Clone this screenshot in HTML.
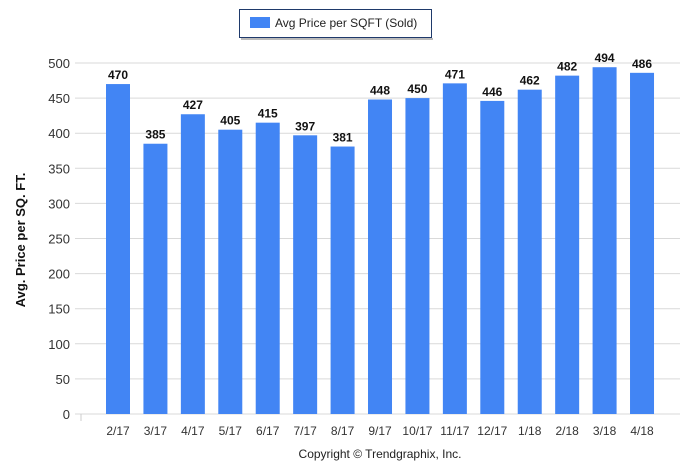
<!DOCTYPE html>
<html><head><meta charset="utf-8"><style>
body{margin:0;background:#fff;}
svg{display:block;font-family:"Liberation Sans",sans-serif;}
</style></head><body>
<svg id="chart" width="699" height="472">
<g>
<rect x="239.5" y="9.5" width="93" height="28" fill="#fff" stroke="#1f3a6b" stroke-width="1" transform="scale(1)"/>
</g>
</svg>
<script>
const categories=["2/17","3/17","4/17","5/17","6/17","7/17","8/17","9/17","10/17","11/17","12/17","1/18","2/18","3/18","4/18"];
const values=[470,385,427,405,415,397,381,448,450,471,446,462,482,494,486];
const yTicks=[0,50,100,150,200,250,300,350,400,450,500];
const svg=document.getElementById('chart');
const NS='http://www.w3.org/2000/svg';
function mk(t,a,p){const e=document.createElementNS(NS,t);for(const k in a)e.setAttribute(k,a[k]);(p||svg).appendChild(e);return e;}
const y0=414,y1=63,yMax=500;
const yS=v=>y0-(v/yMax)*(y0-y1);
const xFirst=118,step=37.43;
const xS=i=>xFirst+i*step;
// legend
const lb=svg.querySelector('rect');lb.setAttribute('x','239.5');lb.setAttribute('width','192');lb.setAttribute('y','9.5');lb.setAttribute('height','28');
mk('rect',{x:241,y:38,width:192,height:2,fill:'#bbb'});
const ls=mk('rect',{x:250,y:17,width:20,height:11,fill:'#4285f4'});

const lt=mk('text',{x:275,y:27,'font-size':12,fill:'#222'});lt.textContent='Avg Price per SQFT (Sold)';

// grid & y labels
yTicks.forEach(v=>{
 const g=mk('line',{x1:75,x2:680,y1:yS(v),y2:yS(v),stroke:'#d9d9d9','stroke-width':1});
 
 const t=mk('text',{x:70,y:yS(v)+5,'text-anchor':'end','font-size':13,fill:'#333'});t.textContent=v;
 
});
mk('line',{x1:81,x2:81,y1:414,y2:421,stroke:'#ccc'});
// bars
values.forEach((v,i)=>{
 const b=mk('rect',{x:xS(i)-12,y:yS(v),width:24,height:y0-yS(v),fill:'#4285f4'});
 
 const t=mk('text',{x:xS(i),y:yS(v)-5,'text-anchor':'middle','font-size':12,'font-weight':'bold',fill:'#111'});t.textContent=v;
 
 const c=mk('text',{x:xS(i),y:435,'text-anchor':'middle','font-size':12,fill:'#333'});c.textContent=categories[i];
 
});
const yt=mk('text',{x:0,y:0,'font-size':13,'font-weight':'bold',fill:'#111','text-anchor':'middle',transform:'translate(25,240) rotate(-90)'});yt.textContent='Avg. Price per SQ. FT.';

const cp=mk('text',{x:380,y:458,'font-size':12,fill:'#222','text-anchor':'middle'});cp.textContent='Copyright © Trendgraphix, Inc.';

</script>
</body></html>
